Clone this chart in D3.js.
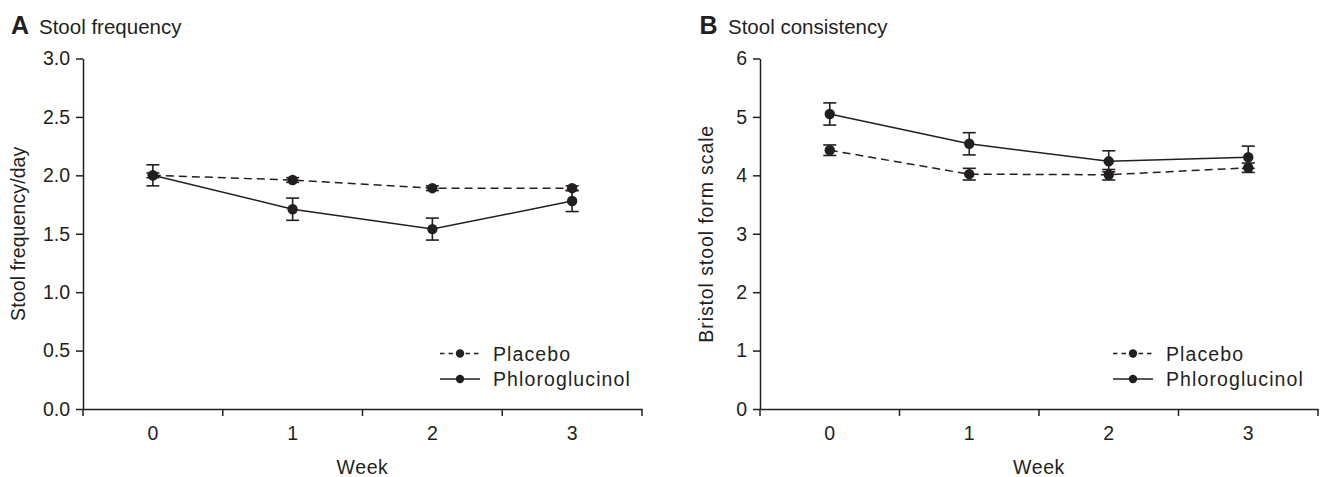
<!DOCTYPE html>
<html><head><meta charset="utf-8">
<script src="https://cdn.jsdelivr.net/npm/d3@7"></script>
<style>body{margin:0;background:#fff}svg{display:block}text{font-family:"Liberation Sans",Arial,sans-serif;fill:#231f20}</style>
</head><body>
<svg id="c" width="1323" height="477"></svg>
<script>
const weeks = ["0","1","2","3"];
const seriesNames = ["Placebo","Phloroglucinol"];
// Panel A: stool frequency/day
const freqPlacebo = [2.00, 1.96, 1.89, 1.89];
const freqPlaceboErr = [0.02, 0.02, 0.02, 0.02];
const freqPhloro = [2.00, 1.71, 1.54, 1.78];
const freqPhloroErr = [0.09, 0.095, 0.094, 0.09];
const freqTicks = [0, 0.5, 1.0, 1.5, 2.0, 2.5, 3.0];
// Panel B: Bristol stool form scale
const bsfsPlacebo = [4.43, 4.02, 4.01, 4.13];
const bsfsPlaceboErr = [0.09, 0.1, 0.09, 0.08];
const bsfsPhloro = [5.05, 4.54, 4.24, 4.31];
const bsfsPhloroErr = [0.19, 0.19, 0.18, 0.19];
const bsfsTicks = [0, 1, 2, 3, 4, 5, 6];

const C = "#231f20";
const FS = 19.5;
const svg = d3.select("#c");

function panel(o){
  const g = svg.append("g");
  const x = d3.scaleBand().domain(weeks).range([o.x0, o.x1]).padding(0);
  const y = d3.scaleLinear().domain([0, o.ticks[o.ticks.length-1]]).range([409, 58.5]);
  // titles
  g.append("text").attr("x", o.lx).attr("y", 33.5).attr("font-size", 25).attr("font-weight", "bold").text(o.letter);
  g.append("text").attr("x", o.tx).attr("y", 33.5).attr("font-size", 20.5).text(o.title);
  // y axis
  const ya = d3.axisLeft(y).tickValues(o.ticks).tickFormat(o.fmt).tickSize(7).tickSizeOuter(0).tickPadding(6);
  const yg = g.append("g").attr("transform", `translate(${o.x0},0)`).call(ya);
  yg.selectAll("text").attr("font-size", FS).style("fill", C).attr("font-family", "Liberation Sans, Arial, sans-serif");
  yg.selectAll("line,path").attr("stroke", C).attr("stroke-width", 1.5);
  // x axis (labels centred in bands, ticks at band edges)
  const xa = d3.axisBottom(x).tickSize(0).tickPadding(17).tickSizeOuter(0);
  const xg = g.append("g").attr("transform", "translate(0,409)").call(xa);
  xg.selectAll("text").attr("font-size", FS).style("fill", C).attr("font-family", "Liberation Sans, Arial, sans-serif");
  xg.select("path").attr("stroke", C).attr("stroke-width", 1.5);
  const edges = weeks.map(w => x(w)).concat([o.x1]);
  g.selectAll(".edge").data(edges).enter().append("line")
    .attr("x1", d => d).attr("x2", d => d).attr("y1", 409).attr("y2", 416)
    .attr("stroke", C).attr("stroke-width", 1.5);
  // axis titles
  g.append("text").attr("x", (o.x0 + o.x1)/2).attr("y", 474).attr("text-anchor", "middle")
    .attr("font-size", FS).attr("letter-spacing", 0.6).text("Week");
  g.append("text").attr("transform", `translate(${o.ylx},${(409+58.5)/2}) rotate(-90)`)
    .attr("text-anchor", "middle").attr("font-size", FS).attr("letter-spacing", o.yls).text(o.ylabel);
  // series
  const cx = w => x(w) + x.bandwidth()/2;
  const series = [
    {name: seriesNames[0], v: o.pl, e: o.plE, dash: "8,5"},
    {name: seriesNames[1], v: o.ph, e: o.phE, dash: null}
  ];
  const line = d3.line().x((d,i) => cx(weeks[i])).y(d => y(d));
  series.forEach(s => {
    g.append("path").attr("d", line(s.v)).attr("fill", "none").attr("stroke", C)
      .attr("stroke-width", 1.5).attr("stroke-dasharray", s.dash);
  });
  series.forEach(s => {
    const eb = g.append("g");
    s.v.forEach((v,i) => {
      const xx = cx(weeks[i]), yt = y(v + s.e[i]), yb = y(v - s.e[i]);
      eb.append("line").attr("x1", xx).attr("x2", xx).attr("y1", yt).attr("y2", yb).attr("stroke", C).attr("stroke-width", 1.6);
      [yt, yb].forEach(yy => eb.append("line").attr("x1", xx-6.5).attr("x2", xx+6.5).attr("y1", yy).attr("y2", yy).attr("stroke", C).attr("stroke-width", 1.6));
      eb.append("circle").attr("cx", xx).attr("cy", y(v)).attr("r", 5.2).attr("fill", C);
    });
  });
  // legend
  const lg = g.append("g");
  series.forEach((s, i) => {
    const ly = 353.5 + i*25.5;
    lg.append("line").attr("x1", o.legx).attr("x2", o.legx+40).attr("y1", ly).attr("y2", ly)
      .attr("stroke", C).attr("stroke-width", 1.5).attr("stroke-dasharray", s.dash ? "4.5,4" : null);
    lg.append("circle").attr("cx", o.legx+20).attr("cy", ly).attr("r", 4.2).attr("fill", C);
    lg.append("text").attr("x", o.legx+53).attr("y", ly+7).attr("font-size", FS).attr("letter-spacing", 1.1).text(s.name);
  });
}

panel({x0: 83, x1: 642, ticks: freqTicks, fmt: d3.format(".1f"), letter: "A", lx: 11, tx: 39,
  title: "Stool frequency", ylabel: "Stool frequency/day", ylx: 25, yls: 0.1,
  pl: freqPlacebo, plE: freqPlaceboErr, ph: freqPhloro, phE: freqPhloroErr, legx: 440});
panel({x0: 760, x1: 1318, ticks: bsfsTicks, fmt: d3.format("d"), letter: "B", lx: 699.5, tx: 728,
  title: "Stool consistency", ylabel: "Bristol stool form scale", ylx: 713, yls: 0.9,
  pl: bsfsPlacebo, plE: bsfsPlaceboErr, ph: bsfsPhloro, phE: bsfsPhloroErr, legx: 1113});
</script>
</body></html>
